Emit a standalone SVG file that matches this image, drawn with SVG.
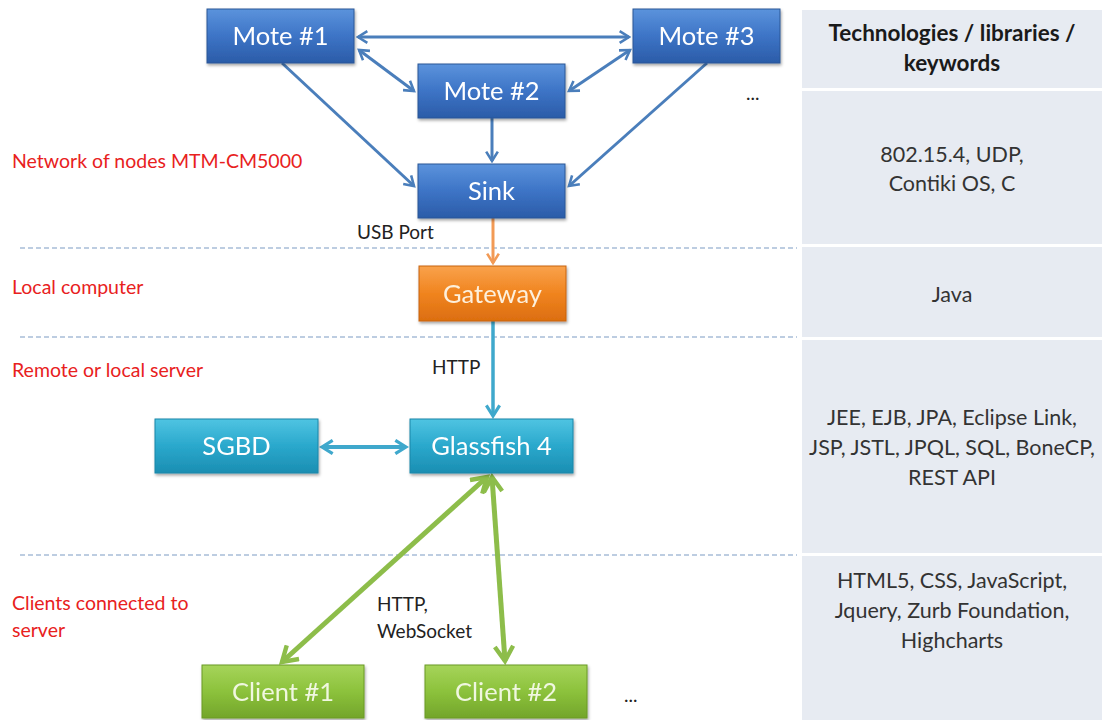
<svg xmlns="http://www.w3.org/2000/svg" width="1102" height="720" viewBox="0 0 1102 720">
<defs>
<linearGradient id="gBlue" x1="0" y1="0" x2="0" y2="1"><stop offset="0" stop-color="#5b93dc"/><stop offset="0.5" stop-color="#3d74c6"/><stop offset="1" stop-color="#2b5ca8"/></linearGradient>
<linearGradient id="gOrange" x1="0" y1="0" x2="0" y2="1"><stop offset="0" stop-color="#f9a24c"/><stop offset="0.5" stop-color="#f0841f"/><stop offset="1" stop-color="#dc6e10"/></linearGradient>
<linearGradient id="gCyan" x1="0" y1="0" x2="0" y2="1"><stop offset="0" stop-color="#4fc4e2"/><stop offset="0.5" stop-color="#2aa8cc"/><stop offset="1" stop-color="#1b8eb2"/></linearGradient>
<linearGradient id="gGreen" x1="0" y1="0" x2="0" y2="1"><stop offset="0" stop-color="#a6d45a"/><stop offset="0.5" stop-color="#8cc23c"/><stop offset="1" stop-color="#73a52a"/></linearGradient>
<filter id="sh" x="-10%" y="-10%" width="125%" height="140%"><feDropShadow dx="1" dy="2" stdDeviation="1.5" flood-color="#000" flood-opacity="0.35"/></filter>
<marker id="aBlue" viewBox="0 0 12 12" refX="10" refY="6" markerWidth="14" markerHeight="14" markerUnits="userSpaceOnUse" orient="auto-start-reverse"><path d="M2,1 L10,6 L2,11" fill="none" stroke="#4a7ebb" stroke-width="2.2"/></marker>
<marker id="aOrange" viewBox="0 0 12 12" refX="10" refY="6" markerWidth="14" markerHeight="14" markerUnits="userSpaceOnUse" orient="auto-start-reverse"><path d="M2,1 L10,6 L2,11" fill="none" stroke="#f29a55" stroke-width="2.2"/></marker>
<marker id="aCyan" viewBox="0 0 12 12" refX="10" refY="6" markerWidth="16" markerHeight="16" markerUnits="userSpaceOnUse" orient="auto-start-reverse"><path d="M2,1 L10,6 L2,11" fill="none" stroke="#3fa8cc" stroke-width="2.4"/></marker>
<marker id="aGreen" viewBox="0 0 12 12" refX="10" refY="6" markerWidth="22" markerHeight="22" markerUnits="userSpaceOnUse" orient="auto-start-reverse"><path d="M2,1 L10,6 L2,11" fill="none" stroke="#8dbd4a" stroke-width="2.4"/></marker>
<style>
.box{stroke-width:1}
.blue{fill:url(#gBlue);stroke:#2a5696}
.orange{fill:url(#gOrange);stroke:#c8650f}
.cyan{fill:url(#gCyan);stroke:#1a86a8}
.green{fill:url(#gGreen);stroke:#6a9a26}
.bt{font-family:Lato,"Open Sans",sans-serif;font-size:25.5px;fill:#ffffff;text-anchor:middle}
.ct{font-family:Lato,"Open Sans",sans-serif;font-size:25.5px;fill:#f0f7e0;text-anchor:middle}
.lbl{font-family:Lato,"Open Sans",sans-serif;font-size:19.5px;fill:#e8211d}
.sm{font-family:Lato,"Open Sans",sans-serif;font-size:19px;fill:#222}
.pt{font-family:Lato,"Open Sans",sans-serif;font-size:21.5px;fill:#333;text-anchor:middle}
.ph{font-family:Lato,"Open Sans",sans-serif;font-size:22.5px;font-weight:bold;fill:#1a1a1a;text-anchor:middle}
.row{fill:#e7ebf2}
.dash{stroke:#7d9cc4;stroke-width:1.2;stroke-dasharray:5 3;fill:none}
.cb{stroke:#4a7ebb;stroke-width:3;fill:none}
</style>
</defs>
<rect width="1102" height="720" fill="#ffffff"/>
<g id="panel">
<rect class="row" x="802" y="10" width="300" height="78"/>
<rect class="row" x="802" y="91" width="300" height="153"/>
<rect class="row" x="802" y="247" width="300" height="90"/>
<rect class="row" x="802" y="340" width="300" height="213"/>
<rect class="row" x="802" y="556" width="300" height="164"/>
<text class="ph" x="952" y="41">Technologies / libraries /</text>
<text class="ph" x="952" y="71">keywords</text>
<text class="pt" x="952" y="162">802.15.4, UDP,</text>
<text class="pt" x="952" y="191">Contiki OS, C</text>
<text class="pt" x="952" y="302">Java</text>
<text class="pt" x="952" y="425">JEE, EJB, JPA, Eclipse Link,</text>
<text class="pt" x="952" y="455">JSP, JSTL, JPQL, SQL, BoneCP,</text>
<text class="pt" x="952" y="485">REST API</text>
<text class="pt" x="952" y="588">HTML5, CSS, JavaScript,</text>
<text class="pt" x="952" y="618">Jquery, Zurb Foundation,</text>
<text class="pt" x="952" y="648">Highcharts</text>
</g>
<g id="separators">
<line class="dash" x1="20" y1="248" x2="797" y2="248"/>
<line class="dash" x1="20" y1="337" x2="797" y2="337"/>
<line class="dash" x1="20" y1="555" x2="797" y2="555"/>
</g>
<g id="labels">
<text class="lbl" x="12" y="168">Network of nodes MTM-CM5000</text>
<text class="lbl" x="12" y="294">Local computer</text>
<text class="lbl" x="12" y="377">Remote or local server</text>
<text class="lbl" x="12" y="610">Clients connected to</text>
<text class="lbl" x="12" y="637">server</text>
<text class="sm" x="357" y="239">USB Port</text>
<text class="sm" x="432" y="374">HTTP</text>
<text class="sm" x="377" y="611">HTTP,</text>
<text class="sm" x="377" y="638">WebSocket</text>
<text class="sm" x="746" y="100">...</text>
<text class="sm" x="624" y="702">...</text>
</g>
<g id="connectors">
<line class="cb" x1="358" y1="37" x2="629" y2="37" marker-start="url(#aBlue)" marker-end="url(#aBlue)"/>
<line class="cb" x1="359" y1="50" x2="414" y2="91" marker-start="url(#aBlue)" marker-end="url(#aBlue)"/>
<line class="cb" x1="630" y1="50" x2="569" y2="91" marker-start="url(#aBlue)" marker-end="url(#aBlue)"/>
<line class="cb" x1="282" y1="63" x2="414" y2="186" marker-end="url(#aBlue)"/>
<line class="cb" x1="707" y1="63" x2="569" y2="186" marker-end="url(#aBlue)"/>
<line class="cb" x1="492" y1="118" x2="492" y2="161" marker-end="url(#aBlue)"/>
<line x1="493" y1="218" x2="493" y2="263" stroke="#f29a55" stroke-width="3" marker-end="url(#aOrange)"/>
<line x1="493" y1="321" x2="493" y2="416" stroke="#3fa8cc" stroke-width="3.5" marker-end="url(#aCyan)"/>
<line x1="322" y1="447" x2="406" y2="447" stroke="#3fa8cc" stroke-width="4" marker-start="url(#aCyan)" marker-end="url(#aCyan)"/>
<line x1="487" y1="477" x2="282" y2="662" stroke="#8dbd4a" stroke-width="5" marker-start="url(#aGreen)" marker-end="url(#aGreen)"/>
<line x1="492" y1="477" x2="505" y2="661" stroke="#8dbd4a" stroke-width="5" marker-start="url(#aGreen)" marker-end="url(#aGreen)"/>
</g>
<g id="mote1" filter="url(#sh)"><rect class="box blue" x="207" y="9" width="147" height="54"/><text class="bt" x="280.5" y="45">Mote #1</text></g>
<g id="mote2" filter="url(#sh)"><rect class="box blue" x="418" y="64" width="147" height="54"/><text class="bt" x="491.5" y="100">Mote #2</text></g>
<g id="mote3" filter="url(#sh)"><rect class="box blue" x="633" y="9" width="147" height="54"/><text class="bt" x="706.5" y="45">Mote #3</text></g>
<g id="sink" filter="url(#sh)"><rect class="box blue" x="418" y="164" width="147" height="54"/><text class="bt" x="491.5" y="200">Sink</text></g>
<g id="gateway" filter="url(#sh)"><rect class="box orange" x="419" y="266" width="147" height="55"/><text class="bt" x="492.5" y="303" style="fill:#fdf0dc">Gateway</text></g>
<g id="sgbd" filter="url(#sh)"><rect class="box cyan" x="155" y="419" width="163" height="54"/><text class="bt" x="236.5" y="455">SGBD</text></g>
<g id="glassfish" filter="url(#sh)"><rect class="box cyan" x="410" y="419" width="163" height="54"/><text class="bt" x="491.5" y="455">Glassfish 4</text></g>
<g id="client1" filter="url(#sh)"><rect class="box green" x="202" y="665" width="162" height="53"/><text class="ct" x="283" y="701">Client #1</text></g>
<g id="client2" filter="url(#sh)"><rect class="box green" x="425" y="665" width="162" height="53"/><text class="ct" x="506" y="701">Client #2</text></g>
</svg>
